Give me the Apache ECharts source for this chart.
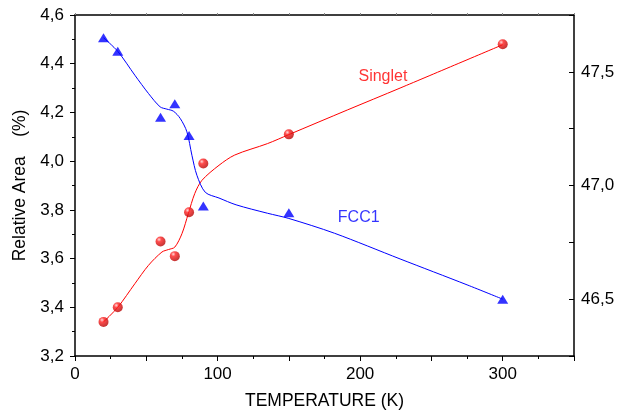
<!DOCTYPE html>
<html>
<head>
<meta charset="utf-8">
<script src="https://cdn.jsdelivr.net/npm/echarts@6/dist/echarts.min.js"></script>
<style>
html,body{margin:0;padding:0;background:#fff;}
#c{width:623px;height:415px;}
</style>
</head>
<body>
<div id="c"></div>
<script>
// Measured data
const temps = [20, 30, 60, 70, 80, 90, 150, 300];
const singlet = [3.34, 3.40, 3.67, 3.61, 3.79, 3.99, 4.11, 4.48];
const fcc1 = [47.65, 47.59, 47.30, 47.36, 47.22, 46.91, 46.88, 46.50];

// Fitted curves
const singletFitX = [20, 30, 42, 51.5, 61, 65.5, 70, 75, 79.5, 84, 89, 101, 112, 135, 150, 191, 228, 300];
const singletFitY = [3.34, 3.40, 3.497, 3.572, 3.627, 3.637, 3.647, 3.702, 3.785, 3.867, 3.921, 3.983, 4.025, 4.072, 4.109, 4.21, 4.30, 4.478];
const fccFitX = [20, 30, 42, 51.5, 59.7, 64.4, 69, 73.8, 78.5, 82, 85.5, 91.4, 101, 113, 135, 150, 182, 228, 275, 300];
const fccFitY = [47.65, 47.59, 47.485, 47.405, 47.346, 47.336, 47.327, 47.295, 47.236, 47.133, 47.045, 46.97, 46.945, 46.915, 46.878, 46.855, 46.79, 46.677, 46.563, 46.50];

// Tick settings
const xTicks = [0, 100, 200, 300];
const leftTicks = [3.2, 3.4, 3.6, 3.8, 4.0, 4.2, 4.4, 4.6];
const rightTicks = [46.5, 47.0, 47.5];

// Annotation labels (data coords, left axis)
const singletLabel = {text: 'Singlet', x: 216, y: 4.348};
const fccLabel = {text: 'FCC1', x: 199, y: 3.769};

const zip = (a, b) => a.map((v, i) => [v, b[i]]);
const FONT = 'Liberation Sans';

const chart = echarts.init(document.getElementById('c'), null, {renderer: 'canvas'});
const sphere = {
  type: 'radial', x: 0.35, y: 0.3, r: 0.75,
  colorStops: [{offset: 0, color: '#ffd0d0'}, {offset: 0.3, color: '#ff2020'}, {offset: 1, color: '#b00000'}]
};
const axisLine = {show: true, onZero: false, lineStyle: {color: '#000', width: 1.5}};

chart.setOption({
  animation: false,
  backgroundColor: '#fff',
  grid: {left: 75, right: 49, top: 15, bottom: 59, containLabel: false},
  xAxis: [{
    type: 'value', min: 0, max: 350, interval: 50,
    name: 'TEMPERATURE (K)', nameLocation: 'middle', nameGap: 36,
    nameTextStyle: {fontFamily: FONT, fontSize: 17.5, color: '#000'},
    axisLine: axisLine,
    axisTick: {show: true, length: 5, lineStyle: {color: '#000', width: 1}},
    minorTick: {show: true, splitNumber: 2, length: 3, lineStyle: {color: '#000', width: 1}},
    axisLabel: {fontFamily: FONT, fontSize: 17, color: '#000', margin: 10,
      formatter: v => xTicks.includes(v) ? String(v) : ''},
    splitLine: {show: false}
  }, {
    type: 'value', min: 0, max: 350, interval: 25, position: 'top',
    axisLine: axisLine,
    axisTick: {show: true, length: 2, lineStyle: {color: '#888', width: 1}},
    axisLabel: {show: false}, splitLine: {show: false}
  }],
  yAxis: [{
    type: 'value', min: 3.2, max: 4.6, interval: 0.2,
    name: 'Relative Area    (%)', nameLocation: 'middle', nameGap: 46,
    nameTextStyle: {fontFamily: FONT, fontSize: 17.5, color: '#000'},
    axisLine: axisLine,
    axisTick: {show: true, length: 5, lineStyle: {color: '#000', width: 1}},
    minorTick: {show: true, splitNumber: 2, length: 3, lineStyle: {color: '#000', width: 1}},
    axisLabel: {fontFamily: FONT, fontSize: 17, color: '#000', margin: 11,
      formatter: v => {
        const r = Math.round(v * 10) / 10;
        return leftTicks.some(t => Math.abs(t - r) < 1e-6) ? r.toFixed(1).replace('.', ',') : '';
      }},
    splitLine: {show: false}
  }, {
    type: 'value', min: 46.25, max: 47.75, interval: 0.25, position: 'right',
    axisLine: axisLine,
    axisTick: {show: true, inside: true, length: 5, lineStyle: {color: '#000', width: 1}},
    axisLabel: {fontFamily: FONT, fontSize: 17, color: '#000', margin: 7,
      formatter: v => {
        const r = Math.round(v * 100) / 100;
        return rightTicks.some(t => Math.abs(t - r) < 1e-6) ? r.toFixed(1).replace('.', ',') : '';
      }},
    splitLine: {show: false}
  }],
  series: [
    {
      type: 'line', yAxisIndex: 0, data: zip(singletFitX, singletFitY),
      smooth: 0.3, showSymbol: false, symbol: 'none',
      lineStyle: {color: '#ff0000', width: 1}, z: 2
    },
    {
      type: 'line', yAxisIndex: 1, data: zip(fccFitX, fccFitY),
      smooth: 0.3, showSymbol: false, symbol: 'none',
      lineStyle: {color: '#0000ff', width: 1}, z: 2
    },
    {
      type: 'scatter', yAxisIndex: 0, data: zip(temps, singlet),
      symbol: 'circle', symbolSize: 10,
      itemStyle: {color: sphere, borderWidth: 0}, z: 4
    },
    {
      type: 'scatter', yAxisIndex: 1, data: zip(temps, fcc1),
      symbol: 'triangle', symbolSize: [11, 9],
      itemStyle: {color: '#0000ff'}, z: 4
    },
    {
      type: 'scatter', yAxisIndex: 0, symbolSize: 0, silent: true,
      data: [[singletLabel.x, singletLabel.y, singletLabel.text]],
      label: {show: true, position: 'inside', formatter: p => p.data[2],
        fontFamily: FONT, fontSize: 16, color: '#ff0000'}
    },
    {
      type: 'scatter', yAxisIndex: 0, symbolSize: 0, silent: true,
      data: [[fccLabel.x, fccLabel.y, fccLabel.text]],
      label: {show: true, position: 'inside', formatter: p => p.data[2],
        fontFamily: FONT, fontSize: 16, color: '#0000ff'}
    }
  ]
});
</script>
</body>
</html>
